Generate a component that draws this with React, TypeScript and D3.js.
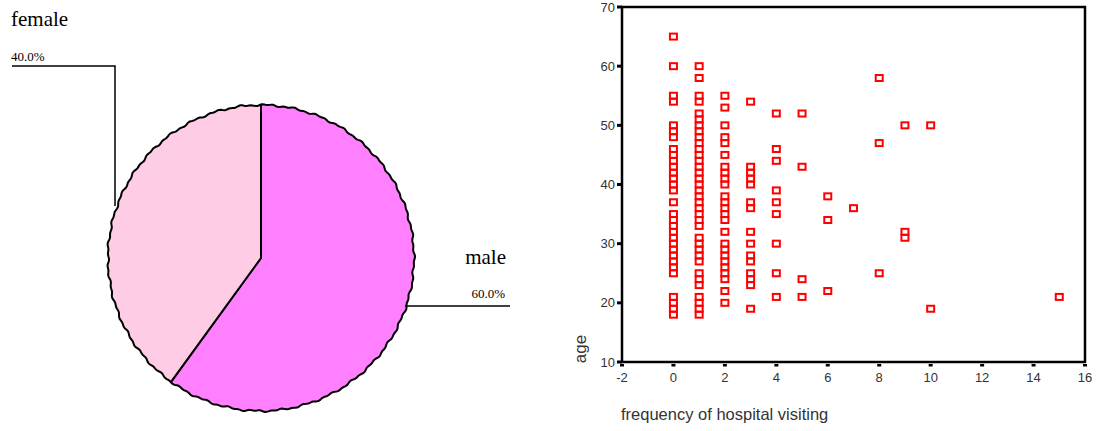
import { useEffect, useRef } from 'react';
import * as d3 from 'd3';

// pie: gender share
const genders = ['male', 'female'];
const genderShare = [60, 40];
const genderColors = ['#ff80ff', '#ffcce6'];

// scatter: ages observed at each visiting frequency
const visitFreq = [0, 1, 2, 3, 4, 5, 6, 7, 8, 9, 10, 15];
const agesAt0 = [65, 60, 55, 54, 50, 49, 48, 46, 45, 44, 43, 42, 41, 40, 39, 37, 35, 34, 33, 32, 31, 30, 29, 28, 27, 26, 25, 21, 20, 19, 18];
const agesAt1 = [60, 58, 55, 54, 52, 51, 50, 49, 48, 47, 46, 45, 44, 43, 42, 41, 40, 39, 38, 37, 36, 35, 34, 33, 31, 30, 29, 28, 27, 25, 24, 23, 21, 20, 19, 18];
const agesAt2 = [55, 53, 50, 48, 47, 45, 43, 42, 41, 40, 38, 37, 36, 35, 34, 32, 30, 29, 28, 27, 26, 25, 24, 22, 20];
const agesAt3 = [54, 43, 42, 41, 40, 37, 36, 32, 30, 28, 27, 25, 24, 23, 19];
const agesAt4 = [52, 46, 44, 39, 37, 35, 30, 25, 21];
const agesAt5 = [52, 43, 24, 21];
const agesAt6 = [38, 34, 22];
const agesAt7 = [36];
const agesAt8 = [58, 47, 25];
const agesAt9 = [50, 32, 31];
const agesAt10 = [50, 19];
const agesAt15 = [21];
const agesByFreq = [agesAt0, agesAt1, agesAt2, agesAt3, agesAt4, agesAt5, agesAt6, agesAt7, agesAt8, agesAt9, agesAt10, agesAt15];

const xTicks = [-2, 0, 2, 4, 6, 8, 10, 12, 14, 16];
const yTicks = [10, 20, 30, 40, 50, 60, 70];

export default function App() {
  const svgRef = useRef<SVGSVGElement>(null);

  useEffect(() => {
    if (!svgRef.current) return;
    const svg = d3.select(svgRef.current);
    svg.selectAll('*').remove();

    // ---------- pie ----------
    const cx = 261, cy = 258, r = 153;
    const pie = d3.pie<number>().sort(null).value(d => d);
    const arcs = pie(genderShare);

    // slightly rough outline like the original print
    const rough = (a: number) => r + 0.6 * Math.sin(a * 37) + 0.5 * Math.sin(a * 89 + 1);
    const slicePath = (a0: number, a1: number) => {
      const pts: [number, number][] = [[cx, cy]];
      const n = Math.max(8, Math.ceil((a1 - a0) * 90));
      for (let i = 0; i <= n; i++) {
        const a = a0 + ((a1 - a0) * i) / n;
        const rr = rough(a);
        pts.push([cx + rr * Math.sin(a), cy - rr * Math.cos(a)]);
      }
      return d3.line()(pts) + 'Z';
    };

    const pg = svg.append('g');
    pg.selectAll('path')
      .data(arcs)
      .join('path')
      .attr('d', d => slicePath(d.startAngle, d.endAngle))
      .attr('fill', (_, i) => genderColors[i])
      .attr('stroke', '#000')
      .attr('stroke-width', 2)
      .attr('stroke-linejoin', 'round');

    const serif = "'Liberation Serif', 'Times New Roman', serif";
    // female label + leader
    pg.append('text').attr('x', 11).attr('y', 26).attr('font-family', serif).attr('font-size', 21).text(genders[1]);
    pg.append('text').attr('x', 11).attr('y', 61).attr('font-family', serif).attr('font-size', 13)
      .text(`${genderShare[1].toFixed(1)}%`);
    pg.append('path').attr('d', 'M12,66H115V206').attr('fill', 'none').attr('stroke', '#000').attr('stroke-width', 1.5);

    // male label + leader
    pg.append('text').attr('x', 506).attr('y', 264).attr('text-anchor', 'end').attr('font-family', serif).attr('font-size', 21).text(genders[0]);
    pg.append('text').attr('x', 505).attr('y', 298).attr('text-anchor', 'end').attr('font-family', serif).attr('font-size', 13)
      .text(`${genderShare[0].toFixed(1)}%`);
    pg.append('path').attr('d', 'M405,306H510').attr('fill', 'none').attr('stroke', '#000').attr('stroke-width', 1.5);

    // ---------- scatter ----------
    const left = 622, right = 1085, top = 7, bottom = 362;
    const x = d3.scaleLinear().domain([-2, 16]).range([left, right]);
    const y = d3.scaleLinear().domain([10, 70]).range([bottom, top]);
    const sans = "'Liberation Sans', Arial, sans-serif";

    const sg = svg.append('g');
    const points = visitFreq.flatMap((f, i) => agesByFreq[i].map(a => ({ f, a })));
    sg.selectAll('rect.pt')
      .data(points)
      .join('rect')
      .attr('class', 'pt')
      .attr('x', d => x(d.f) - 3.5)
      .attr('y', d => y(d.a) - 3)
      .attr('width', 7)
      .attr('height', 6)
      .attr('fill', 'none')
      .attr('stroke', '#ff0000')
      .attr('stroke-width', 2);

    // frame
    sg.append('rect')
      .attr('x', left).attr('y', top)
      .attr('width', right - left).attr('height', bottom - top)
      .attr('fill', 'none').attr('stroke', '#000').attr('stroke-width', 2.5);

    // y ticks
    sg.selectAll('rect.yt').data(yTicks).join('rect').attr('class', 'yt')
      .attr('x', left - 5).attr('y', d => y(d) - 1.5).attr('width', 5).attr('height', 3).attr('fill', '#000');
    sg.selectAll('text.yl').data(yTicks).join('text').attr('class', 'yl')
      .attr('x', left - 7).attr('y', d => y(d) + 4.5)
      .attr('text-anchor', 'end').attr('font-family', sans).attr('font-size', 13).attr('fill', '#333')
      .text(d => d);

    // x ticks
    sg.selectAll('rect.xt').data(xTicks).join('rect').attr('class', 'xt')
      .attr('x', d => x(d) - 2).attr('y', bottom + 2).attr('width', 4).attr('height', 2.5).attr('fill', '#000');
    sg.selectAll('text.xl').data(xTicks).join('text').attr('class', 'xl')
      .attr('x', d => x(d)).attr('y', bottom + 20)
      .attr('text-anchor', 'middle').attr('font-family', sans).attr('font-size', 13).attr('fill', '#333')
      .text(d => d);

    // axis titles
    sg.append('text')
      .attr('transform', `translate(586,349) rotate(-90)`)
      .attr('text-anchor', 'middle').attr('font-family', sans).attr('font-size', 17).attr('fill', '#333')
      .text('age');
    sg.append('text')
      .attr('x', left - 1).attr('y', 420)
      .attr('font-family', sans).attr('font-size', 16.5).attr('fill', '#333')
      .text('frequency of hospital visiting');
  }, []);

  return (
    <svg
      ref={svgRef}
      width={1098}
      height={431}
      style={{ position: 'absolute', left: 0, top: 0, background: '#fff' }}
    />
  );
}
